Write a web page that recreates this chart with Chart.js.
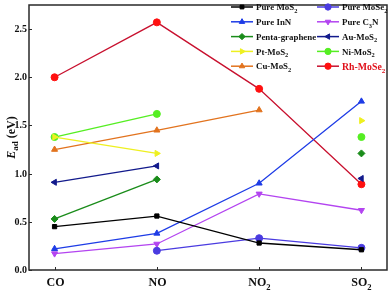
<!DOCTYPE html>
<html>
<head>
<meta charset="utf-8">
<script src="https://cdn.jsdelivr.net/npm/chart.js@4.4.0/dist/chart.umd.min.js"></script>
<style>
  html, body { margin: 0; padding: 0; background: #fff; }
  #wrap { width: 392px; height: 291px; }
</style>
</head>
<body>
<div id="wrap"><canvas id="c" width="392" height="291"></canvas></div>
<script>
// gases on the x axis ("_" marks a subscript digit)
const categories = ['CO', 'NO', 'NO_2', 'SO_2'];
const yTicks = [0.0, 0.5, 1.0, 1.5, 2.0, 2.5];

// adsorption energies (eV), null = not reported
const pureMoS2 = [0.45, 0.56, 0.28, 0.21];
const pureMoSe2 = [null, 0.20, 0.33, 0.23];
const pureInN = [0.22, 0.38, 0.90, 1.75];
const pureC3N = [0.17, 0.27, 0.79, 0.62];
const pentaGraphene = [0.53, 0.94, null, 1.21];
const auMoS2 = [0.91, 1.08, null, 0.95];
const ptMoS2 = [1.38, 1.21, null, 1.55];
const niMoS2 = [1.38, 1.62, null, 1.38];
const cuMoS2 = [1.25, 1.45, 1.66, null];
const rhMoSe2 = [2.00, 2.57, 1.88, 0.89];

function toPoints(arr) {
    return arr.map((v, i) => ({ x: i, y: v }));
}

function series(label, values, color, style, rotation, lineColor) {
    return {
        label: label,
        data: toPoints(values),
        borderColor: lineColor || color,
        backgroundColor: color,
        pointBackgroundColor: color,
        pointBorderColor: color,
        pointStyle: style,
        rotation: rotation,
        pointRadius: style === 'rect' ? 3 : 3.5,
        borderWidth: 1.3,
        pointBorderWidth: 1,
        spanGaps: false,
        tension: 0
    };
}

const datasets = [
    series('Pure MoS_2', pureMoS2, '#000000', 'rect', 0),
    series('Pure MoSe_2', pureMoSe2, '#4a3be0', 'circle', 0),
    series('Pure InN', pureInN, '#1e3ce6', 'triangle', 0),
    series('Pure C_3N', pureC3N, '#b344f0', 'triangle', 180),
    series('Penta-graphene', pentaGraphene, '#1a8c1a', 'rectRot', 0),
    series('Au-MoS_2', auMoS2, '#121a8c', 'triangle', -90),
    series('Pt-MoS_2', ptMoS2, '#eef020', 'triangle', 90),
    series('Ni-MoS_2', niMoS2, '#55ee22', 'circle', 0),
    series('Cu-MoS_2', cuMoS2, '#e2731e', 'triangle', 0),
    series('Rh-MoSe_2', rhMoSe2, '#ff1010', 'circle', 0, '#c8102e')
];

const SERIF = '"Liberation Serif", "Times New Roman", serif';

// draw text where "_x" puts x as a subscript
function drawSub(ctx, text, x, y, size, color) {
    ctx.fillStyle = color;
    ctx.textBaseline = 'alphabetic';
    ctx.textAlign = 'left';
    let cx = x;
    for (let i = 0; i < text.length; i++) {
        const ch = text[i];
        if (ch === '_' && i + 1 < text.length) {
            ctx.font = 'bold ' + (size * 0.72).toFixed(1) + 'px ' + SERIF;
            ctx.fillText(text[i + 1], cx, y + size * 0.3);
            cx += ctx.measureText(text[i + 1]).width;
            i++;
        } else {
            ctx.font = 'bold ' + size + 'px ' + SERIF;
            ctx.fillText(ch, cx, y);
            cx += ctx.measureText(ch).width;
        }
    }
    return cx - x;
}

function subWidth(ctx, text, size) {
    let w = 0;
    for (let i = 0; i < text.length; i++) {
        if (text[i] === '_' && i + 1 < text.length) {
            ctx.font = 'bold ' + (size * 0.72).toFixed(1) + 'px ' + SERIF;
            w += ctx.measureText(text[i + 1]).width;
            i++;
        } else {
            ctx.font = 'bold ' + size + 'px ' + SERIF;
            w += ctx.measureText(text[i]).width;
        }
    }
    return w;
}

const decorations = {
    id: 'decorations',
    afterDraw(chart) {
        const ctx = chart.ctx;
        const area = chart.chartArea;
        const xs = chart.scales.x;
        const ys = chart.scales.y;
        ctx.save();

        // frame
        ctx.strokeStyle = '#2a2a2a';
        ctx.lineWidth = 1.5;
        ctx.strokeRect(area.left, area.top, area.right - area.left, area.bottom - area.top);

        // y ticks + labels
        ctx.lineWidth = 1;
        yTicks.forEach(v => {
            const py = Math.round(ys.getPixelForValue(v)) + 0.5;
            ctx.beginPath();
            ctx.moveTo(area.left, py);
            ctx.lineTo(area.left + 3, py);
            ctx.stroke();
            ctx.font = 'bold 10px ' + SERIF;
            ctx.fillStyle = '#111';
            ctx.textAlign = 'right';
            ctx.textBaseline = 'middle';
            ctx.fillText(v.toFixed(1), area.left - 2, py);
        });

        // x ticks + labels
        categories.forEach((c, i) => {
            const px = Math.round(xs.getPixelForValue(i)) + 0.5;
            ctx.beginPath();
            ctx.moveTo(px, area.bottom);
            ctx.lineTo(px, area.bottom - 3);
            ctx.stroke();
            const w = subWidth(ctx, c, 12);
            drawSub(ctx, c, px - w / 2, area.bottom + 16, 12, '#111');
        });

        // y title: E_ad (eV)
        ctx.translate(11, (area.top + area.bottom) / 2);
        ctx.rotate(-Math.PI / 2);
        ctx.fillStyle = '#111';
        ctx.textBaseline = 'alphabetic';
        ctx.textAlign = 'left';
        ctx.font = 'italic bold 12px ' + SERIF;
        const wE = ctx.measureText('E').width;
        ctx.font = 'bold 9px ' + SERIF;
        const wAd = ctx.measureText('ad').width;
        ctx.font = 'bold 12px ' + SERIF;
        const wEv = ctx.measureText(' (eV)').width;
        let tx = -(wE + wAd + wEv) / 2;
        ctx.font = 'italic bold 12px ' + SERIF;
        ctx.fillText('E', tx, 4);
        tx += wE;
        ctx.font = 'bold 9px ' + SERIF;
        ctx.fillText('ad', tx, 7);
        tx += wAd;
        ctx.font = 'bold 12px ' + SERIF;
        ctx.fillText(' (eV)', tx, 4);
        ctx.setTransform(1, 0, 0, 1, 0, 0);

        // legend, two columns inside the plot
        const colLine = [231, 317];
        const colText = [256, 342];
        chart.data.datasets.forEach((ds, i) => {
            const col = i % 2;
            const row = Math.floor(i / 2);
            const y = 7 + row * 14.8;
            ctx.strokeStyle = ds.borderColor;
            ctx.lineWidth = 1.5;
            ctx.beginPath();
            ctx.moveTo(colLine[col], y);
            ctx.lineTo(colLine[col] + 22, y);
            ctx.stroke();
            ctx.fillStyle = ds.pointBackgroundColor;
            ctx.strokeStyle = ds.pointBorderColor;
            ctx.lineWidth = 1;
            Chart.helpers.drawPoint(ctx, {
                pointStyle: ds.pointStyle,
                rotation: ds.rotation,
                radius: ds.pointRadius * 0.9,
                borderWidth: 1
            }, colLine[col] + 11, y);
            const isRh = ds.label.indexOf('Rh') === 0;
            drawSub(ctx, ds.label, colText[col], y + (isRh ? 3.6 : 3.2),
                isRh ? 9.8 : 8.9, isRh ? '#e0101a' : '#111');
        });

        ctx.restore();
    }
};

new Chart(document.getElementById('c'), {
    type: 'line',
    data: { datasets: datasets },
    options: {
        responsive: false,
        animation: false,
        layout: { padding: { top: 2, right: 3, left: 0, bottom: 0 } },
        plugins: {
            legend: { display: false },
            tooltip: { enabled: false }
        },
        scales: {
            x: {
                type: 'linear',
                min: -0.25,
                max: 3.25,
                grid: { display: false },
                border: { display: false },
                ticks: { display: false, stepSize: 1 },
                afterFit(scale) { scale.height = 21; }
            },
            y: {
                min: 0,
                max: 2.75,
                grid: { display: false },
                border: { display: false },
                ticks: { display: false, stepSize: 0.5 },
                afterFit(scale) { scale.width = 29; }
            }
        }
    },
    plugins: [decorations]
});
</script>
</body>
</html>
